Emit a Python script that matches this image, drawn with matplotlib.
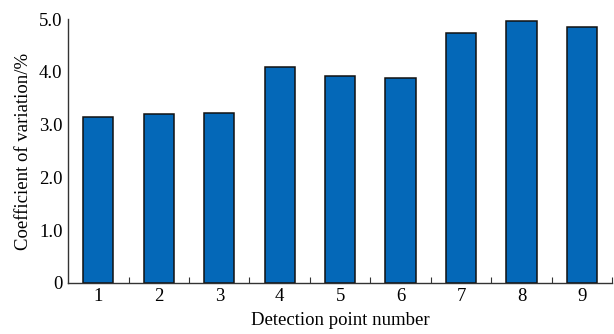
import numpy as np
import matplotlib
matplotlib.use("Agg")
import matplotlib.pyplot as plt

# detection points and their coefficient of variation (%)
points = [1, 2, 3, 4, 5, 6, 7, 8, 9]
cv_values = [3.14, 3.20, 3.21, 4.09, 3.92, 3.88, 4.74, 4.96, 4.85]
y_ticks = [0, 1.0, 2.0, 3.0, 4.0, 5.0]
y_tick_labels = ["0", "1.0", "2.0", "3.0", "4.0", "5.0"]

plt.rcParams['font.family'] = ['Liberation Serif', 'DejaVu Serif']

fig = plt.figure(figsize=(6.14, 3.34), dpi=100)
ax = fig.add_axes([0.111, 0.153, 0.886, 0.79])

ax.bar(points, cv_values, width=0.5, color='#0468B8', edgecolor='#111111', linewidth=1.1, zorder=2)

ax.set_xlim(0.5, 9.5)
ax.set_ylim(0, 5.0)

ax.set_xticks(points)
ax.set_xticklabels([str(p) for p in points])
ax.set_xticks(np.arange(1.5, 10, 1.0), minor=True)
ax.set_yticks(y_ticks)
ax.set_yticklabels(y_tick_labels)
ax.set_yticks([5.0], minor=True)

ax.tick_params(axis='both', which='major', length=0, labelsize=13.5, pad=4)
ax.tick_params(axis='x', which='minor', direction='in', length=4, width=0.8, color='#333333')
ax.tick_params(axis='y', which='minor', direction='in', length=4, width=0.8, color='#333333')

for side in ['top', 'right']:
    ax.spines[side].set_visible(False)
for side in ['left', 'bottom']:
    ax.spines[side].set_linewidth(1.0)
    ax.spines[side].set_color('#333333')

ax.set_xlabel("Detection point number", fontsize=13.5, labelpad=5)
ax.set_ylabel("Coefficient of variation/%", fontsize=13.5, labelpad=5)

fig.savefig("out.png", dpi=100)
